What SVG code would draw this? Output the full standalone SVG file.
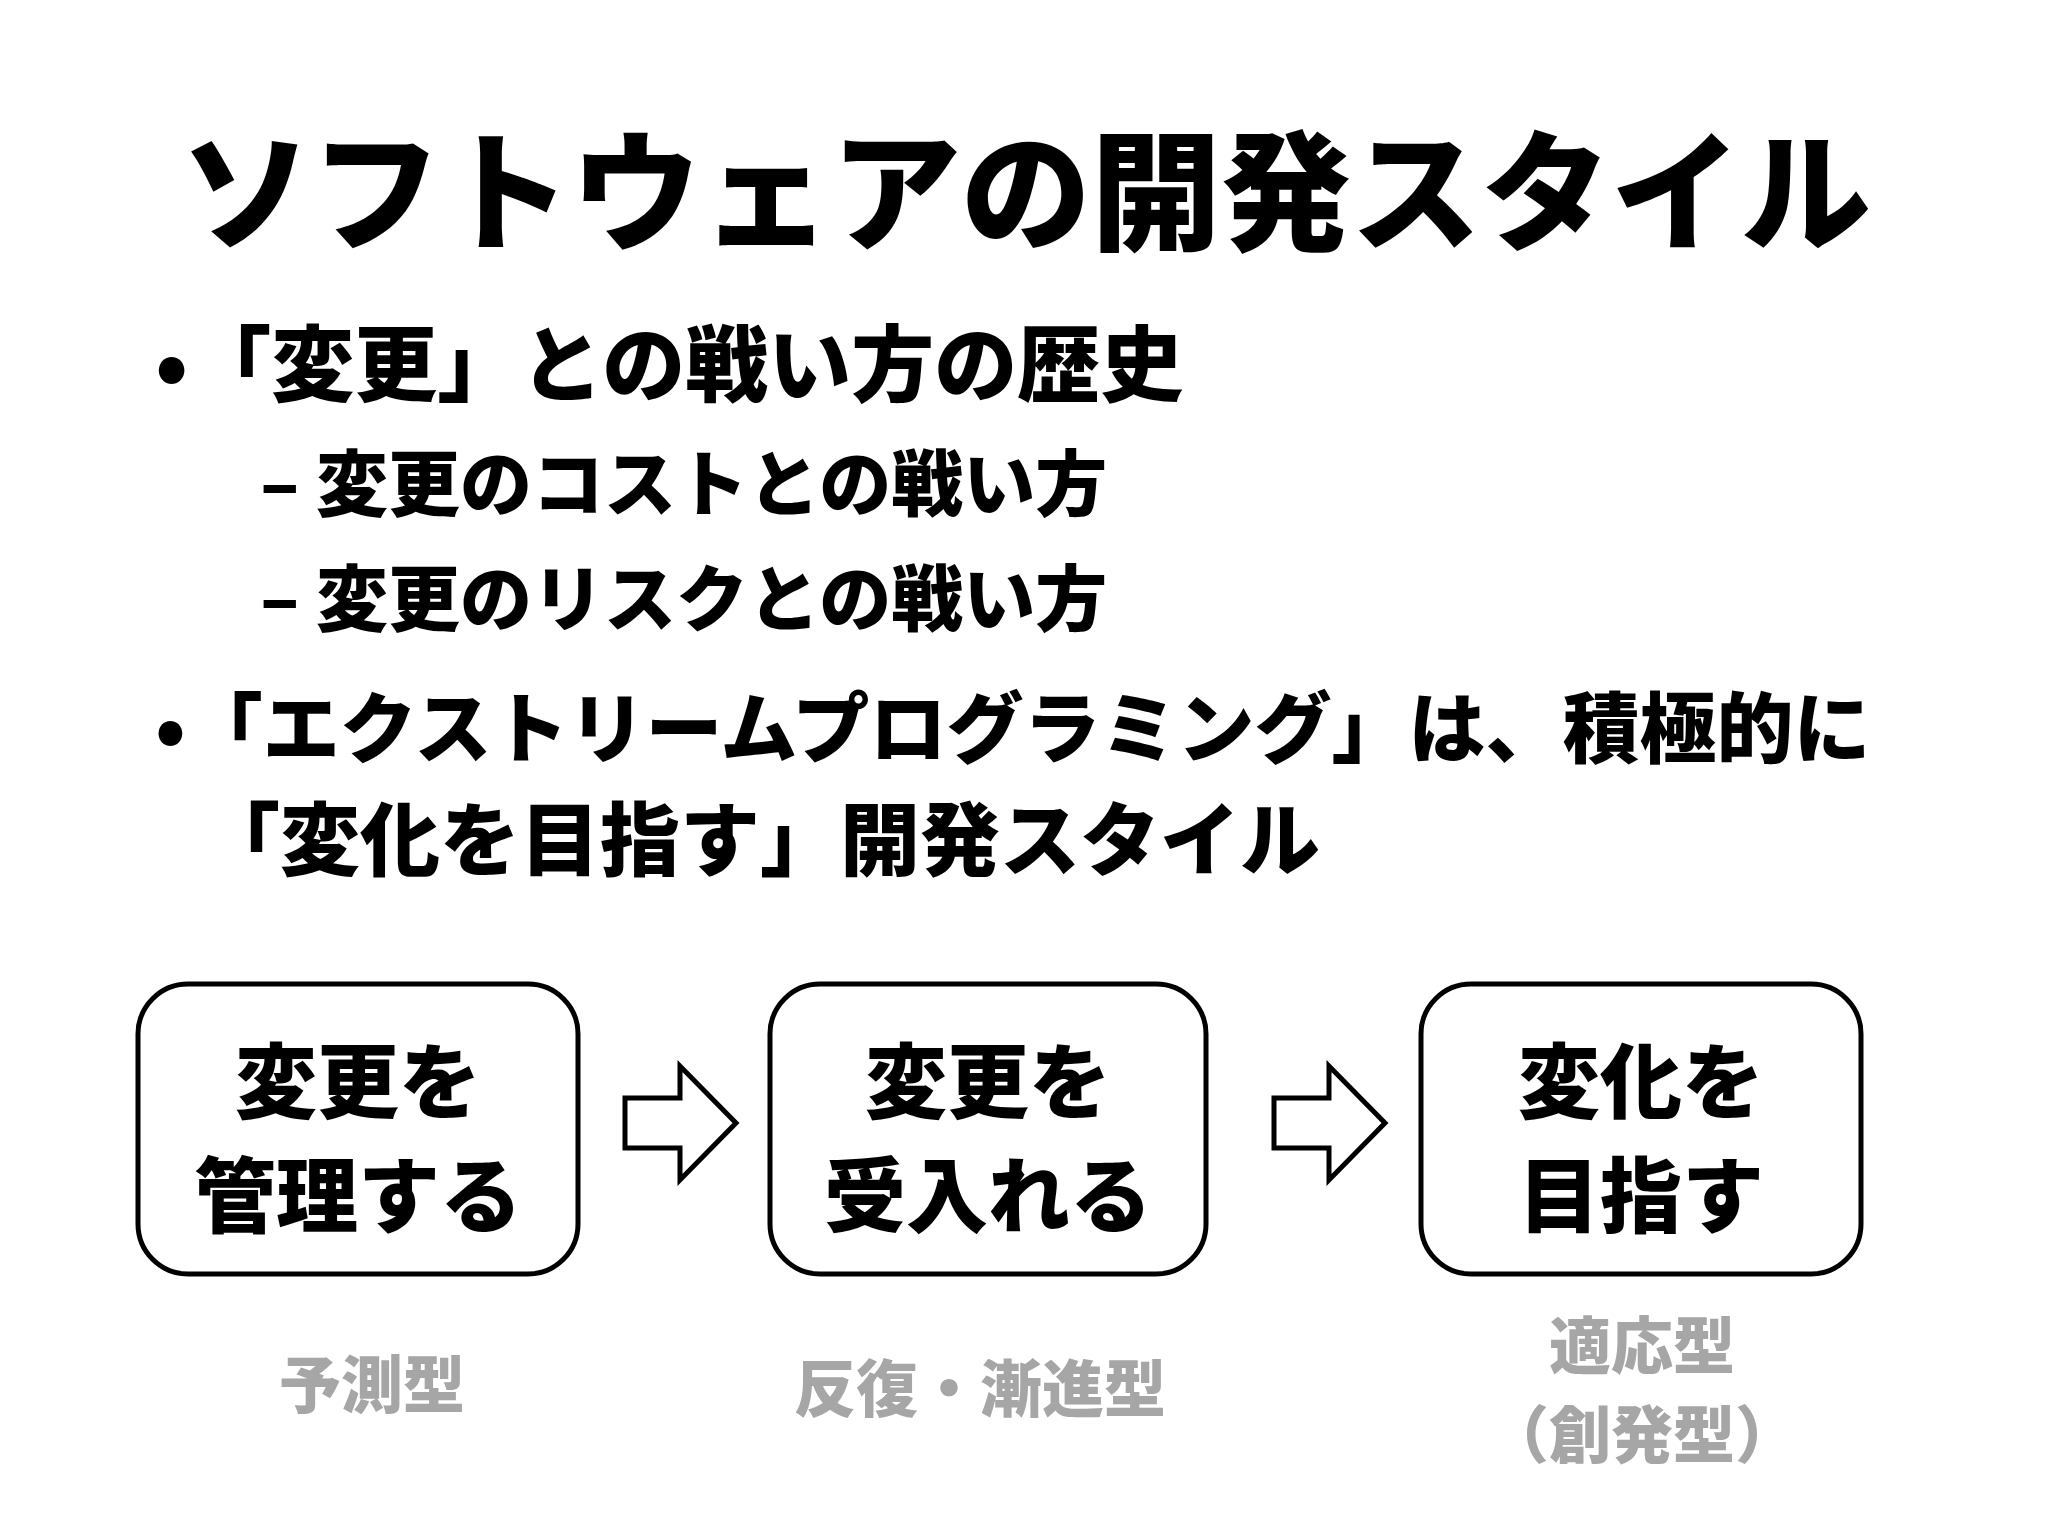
<svg xmlns="http://www.w3.org/2000/svg" width="2048" height="1535" viewBox="0 0 2048 1535">
<style>
text{font-family:"Noto Sans CJK JP","Noto Sans",sans-serif;font-weight:900;fill:#000}
.box{fill:#fff;stroke:#000;stroke-width:5}
.bt{font-size:82px;text-anchor:middle}
.g{font-size:62px;fill:#a6a6a6;text-anchor:middle}
.arr{fill:#fff;stroke:#000;stroke-width:5;stroke-linejoin:miter}
</style>
<rect width="2048" height="1535" fill="#fff"/>
<g id="title"><text x="1026" y="240" font-size="130" text-anchor="middle">ソフトウェアの開発スタイル</text></g>
<g id="bullets">
<text x="155" y="395" font-size="83">•「変更」との戦い方の歴史</text>
<text x="260" y="510" font-size="72">– 変更のコストとの戦い方</text>
<text x="260" y="625" font-size="72">– 変更のリスクとの戦い方</text>
<text x="155" y="757" font-size="77">•「エクストリームプログラミング」は、積極的に</text>
<text x="200" y="869" font-size="80">「変化を目指す」開発スタイル</text>
</g>
<g id="box1"><rect class="box" x="138" y="984" width="440" height="290" rx="50"/>
<text class="bt" x="358" y="1112">変更を</text><text class="bt" x="358" y="1226">管理する</text></g>
<g id="box2"><rect class="box" x="770" y="984" width="436" height="290" rx="50"/>
<text class="bt" x="988" y="1112">変更を</text><text class="bt" x="988" y="1226">受入れる</text></g>
<g id="box3"><rect class="box" x="1421" y="984" width="440" height="290" rx="50"/>
<text class="bt" x="1641" y="1112">変化を</text><text class="bt" x="1641" y="1226">目指す</text></g>
<g id="connectors">
<polygon class="arr" points="625,1098 680,1098 680,1066 736,1123 680,1180 680,1148 625,1148"/>
<polygon class="arr" points="1274,1098 1329,1098 1329,1066 1385,1123 1329,1180 1329,1148 1274,1148"/>
</g>
<g id="labels">
<text class="g" x="372" y="1408">予測型</text>
<text class="g" x="980" y="1412">反復・漸進型</text>
<text class="g" x="1642" y="1369">適応型</text>
<text class="g" x="1642" y="1458">（創発型）</text>
</g>
</svg>
